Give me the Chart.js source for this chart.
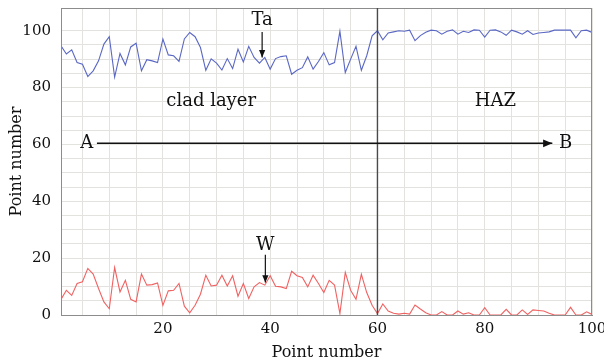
<!DOCTYPE html>
<html>
<head>
<meta charset="utf-8">
<script src="https://cdn.jsdelivr.net/npm/chart.js@4/dist/chart.umd.min.js"></script>
<style>
  html, body { margin: 0; padding: 0; background: #fff; }
  canvas { display: block; }
</style>
</head>
<body>
<canvas id="graph" width="604" height="362"></canvas>
<script>
// point index 1..100
const pointNumbers = [];
for (let i = 1; i <= 100; i++) pointNumbers.push(i);

const taValues = [
    94.7, 91.8, 93.3, 88.8, 88.2, 83.9, 85.9, 89.4, 95.3, 97.9,
    83.7, 92.0, 88.0, 94.3, 95.6, 85.9, 89.8, 89.4, 88.8, 97.1,
    91.5, 91.2, 89.2, 97.1, 99.4, 97.9, 94.1, 86.1, 90.1, 88.6,
    86.2, 90.2, 86.7, 93.5, 89.0, 94.5, 90.6, 88.6, 90.6, 86.5,
    90.2, 90.9, 91.2, 84.7, 86.1, 87.0, 90.8, 86.5, 89.2, 92.3,
    88.0, 88.8, 99.8, 85.3, 90.0, 94.5, 86.1, 91.2, 98.2, 100.0,
    96.8, 99.2, 99.6, 100.0, 99.8, 100.2, 96.5, 98.3, 99.5, 100.2,
    100.0, 98.8, 99.8, 100.3, 98.8, 99.8, 99.4, 100.3, 100.2, 97.8,
    100.2, 100.3, 99.6, 98.4, 100.2, 99.6, 98.8, 100.0, 98.7, 99.2,
    99.4, 99.6, 100.2, 100.2, 100.2, 100.2, 97.5, 100.0, 100.2, 99.4
];

const wValues = [
    5.5, 8.7, 6.9, 11.1, 11.7, 16.4, 14.4, 9.3, 4.6, 2.2,
    16.7, 8.1, 12.2, 5.5, 4.6, 14.4, 10.5, 10.7, 11.3, 3.4,
    8.5, 8.7, 11.1, 3.1, 0.8, 3.4, 7.3, 14.0, 10.2, 10.5,
    14.0, 10.2, 13.8, 6.6, 11.1, 5.8, 9.9, 11.4, 10.5, 13.8,
    10.1, 9.9, 9.3, 15.4, 13.8, 13.2, 9.9, 14.0, 11.1, 7.9,
    12.2, 10.5, 0.5, 15.0, 8.7, 5.5, 14.3, 7.9, 3.4, 0.5,
    3.9, 1.4, 0.6, 0.3, 0.6, 0.3, 3.5, 2.1, 0.8, 0,
    0, 1.2, 0, 0, 1.4, 0.3, 0.8, 0, 0, 2.6,
    0, 0, 0, 2.0, 0, 0, 1.8, 0.2, 1.8, 1.6,
    1.4, 0.6, 0, 0, 0, 2.7, 0, 0, 1.1, 0.2
];

const xTickLabels = [20, 40, 60, 80, 100];
const yTickLabels = [0, 20, 40, 60, 80, 100];

const serif = "'DejaVu Serif', 'Liberation Serif', serif";

function toPoints(vals) {
    return vals.map((v, i) => ({x: pointNumbers[i], y: v}));
}

function arrow(ctx, x1, y1, x2, y2, head) {
    ctx.beginPath();
    ctx.moveTo(x1, y1);
    ctx.lineTo(x2, y2);
    ctx.stroke();
    const a = Math.atan2(y2 - y1, x2 - x1);
    ctx.beginPath();
    ctx.moveTo(x2, y2);
    ctx.lineTo(x2 - head * Math.cos(a - 0.4), y2 - head * Math.sin(a - 0.4));
    ctx.lineTo(x2 - head * Math.cos(a + 0.4), y2 - head * Math.sin(a + 0.4));
    ctx.closePath();
    ctx.fill();
}

const notes = {
    id: "notes",
    afterDatasetsDraw(chart) {
        const {ctx, chartArea: area, scales: {x, y}} = chart;
        ctx.save();
        // frame
        ctx.strokeStyle = "#8c8c8c";
        ctx.lineWidth = 1;
        ctx.strokeRect(area.left + 0.5, area.top + 0.5, area.right - area.left - 1, area.bottom - area.top);

        // boundary between clad layer and HAZ
        ctx.strokeStyle = "#4a4a4a";
        ctx.lineWidth = 1.4;
        ctx.beginPath();
        ctx.moveTo(x.getPixelForValue(60), area.top);
        ctx.lineTo(x.getPixelForValue(60), area.bottom);
        ctx.stroke();

        ctx.fillStyle = "#111";
        ctx.strokeStyle = "#111";
        ctx.textAlign = "center";
        ctx.textBaseline = "middle";
        ctx.font = "18px " + serif;
        ctx.fillText("clad layer", x.getPixelForValue(29), y.getPixelForValue(75));
        ctx.fillText("HAZ", x.getPixelForValue(82), y.getPixelForValue(75));
        ctx.fillText("A", x.getPixelForValue(5.8), y.getPixelForValue(60.4));
        ctx.fillText("B", x.getPixelForValue(95.1), y.getPixelForValue(60.4));
        ctx.fillText("Ta", x.getPixelForValue(38.5), y.getPixelForValue(103.8));
        ctx.fillText("W", x.getPixelForValue(39.1), y.getPixelForValue(24.4));

        ctx.lineWidth = 1.5;
        arrow(ctx, x.getPixelForValue(7.7), y.getPixelForValue(60.4),
              x.getPixelForValue(92.6), y.getPixelForValue(60.4), 10);
        ctx.lineWidth = 1.2;
        arrow(ctx, x.getPixelForValue(38.5), y.getPixelForValue(99.6),
              x.getPixelForValue(38.5), y.getPixelForValue(90.6), 8);
        arrow(ctx, x.getPixelForValue(39.1), y.getPixelForValue(21.2),
              x.getPixelForValue(39.1), y.getPixelForValue(11.4), 8);
        ctx.restore();
    }
};

const chart = new Chart(document.getElementById("graph"), {
    type: "line",
    data: {
        datasets: [
            {label: "Ta", data: toPoints(taValues), borderColor: "#5a68c4", borderWidth: 1.1, pointRadius: 0, tension: 0},
            {label: "W", data: toPoints(wValues), borderColor: "#f06262", borderWidth: 1.1, pointRadius: 0, tension: 0},
        ],
    },
    options: {
        responsive: false,
        animation: false,
        layout: {padding: {top: 8, right: 12, left: 0, bottom: 0}},
        plugins: {legend: {display: false}, tooltip: {enabled: false}},
        scales: {
            x: {
                type: "linear",
                min: 1,
                max: 100,
                afterFit: (s) => { s.height = 47; s.paddingRight = 0; s.paddingLeft = 0; },
                border: {color: "#8c8c8c"},
                grid: {color: "#e4e2de", tickLength: 0},
                ticks: {
                    stepSize: 5,
                    autoSkip: false,
                    maxRotation: 0,
                    padding: 5,
                    color: "#111",
                    font: {family: serif, size: 15},
                    callback: (v) => xTickLabels.includes(v) ? String(v) : "",
                },
                title: {display: true, text: "Point number", color: "#111", font: {family: serif, size: 16}, padding: {top: 0, bottom: 0}},
            },
            y: {
                min: 0,
                max: 108,
                afterFit: (s) => { s.width = 61; s.paddingTop = 0; s.paddingBottom = 0; },
                border: {color: "#8c8c8c"},
                grid: {color: "#e4e2de", tickLength: 0},
                ticks: {
                    stepSize: 5,
                    autoSkip: false,
                    padding: 10,
                    color: "#111",
                    font: {family: serif, size: 15},
                    callback: (v) => yTickLabels.includes(v) ? String(v) : "",
                },
                title: {display: true, text: "Point number", color: "#111", font: {family: serif, size: 16}, padding: {top: 7, bottom: 0}},
            },
        },
    },
    plugins: [notes],
});
</script>
</body>
</html>
